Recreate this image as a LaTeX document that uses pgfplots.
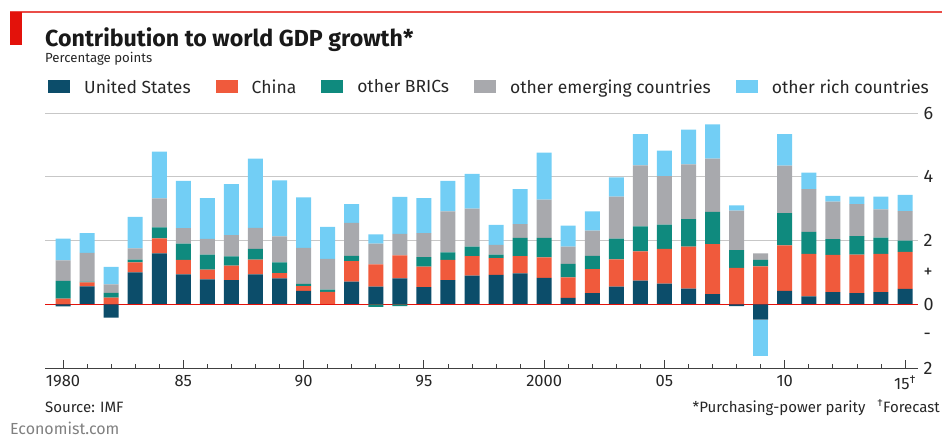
\documentclass[border=0pt]{standalone}
\usepackage{pgfplots}
\pgfplotsset{compat=1.18}
\usepackage{pgfplotstable}
\usepackage{fontspec}
\setmainfont{Fira Sans}
\definecolor{cUS}{HTML}{0C4D6A}
\definecolor{cCN}{HTML}{F05A3C}
\definecolor{cBR}{HTML}{0F8A7E}
\definecolor{cEM}{HTML}{A8A9AD}
\definecolor{cRI}{HTML}{72CEF5}
\definecolor{ecoRed}{HTML}{E3120B}
\pgfplotsset{legsq/.style={legend image code/.code={\fill[##1] (0pt,-6.5pt) rectangle (22pt,6.5pt);}}}
\pgfplotstableread{
year us cn br em ri
1980 0.00 0.18 0.55 0.65 0.68
1981 0.56 0.13 0.02 0.90 0.62
1982 0.00 0.21 0.15 0.26 0.55
1983 1.00 0.31 0.09 0.35 0.99
1984 1.60 0.47 0.34 0.91 1.47
1985 0.94 0.45 0.51 0.49 1.48
1986 0.78 0.31 0.47 0.49 1.28
1987 0.76 0.45 0.29 0.67 1.60
1988 0.94 0.46 0.34 0.66 2.17
1989 0.81 0.17 0.33 0.82 1.76
1990 0.42 0.15 0.07 1.13 1.58
1991 0.00 0.39 0.07 0.96 1.01
1992 0.71 0.64 0.17 1.03 0.59
1993 0.55 0.70 0.00 0.65 0.29
1994 0.81 0.72 0.00 0.68 1.16
1995 0.54 0.64 0.30 0.75 1.10
1996 0.76 0.63 0.24 1.28 0.96
1997 0.90 0.61 0.30 1.19 1.09
1998 0.92 0.53 0.11 0.30 0.63
1999 0.97 0.54 0.57 0.43 1.10
2000 0.83 0.64 0.61 1.20 1.48
2001 0.20 0.64 0.43 0.54 0.66
2002 0.35 0.75 0.42 0.79 0.60
2003 0.55 0.86 0.65 1.32 0.60
2004 0.74 0.92 0.78 1.92 0.98
2005 0.65 1.09 0.76 1.52 0.80
2006 0.49 1.32 0.86 1.72 1.09
2007 0.32 1.57 1.01 1.67 1.07
2008 0.00 1.14 0.56 1.24 0.16
2009 0.00 1.19 0.20 0.21 0.00
2010 0.42 1.43 1.01 1.49 0.99
2011 0.25 1.33 0.69 1.34 0.52
2012 0.38 1.17 0.49 1.18 0.18
2013 0.35 1.21 0.58 1.00 0.24
2014 0.38 1.20 0.51 0.89 0.40
2015 0.48 1.16 0.36 0.92 0.51
}\postab
\pgfplotstableread{
year us br ri
1980 -0.07 0 0
1981 0 0 0
1982 -0.42 0 0
1983 0 0 0
1984 0 0 0
1985 0 0 0
1986 0 0 0
1987 0 0 0
1988 0 0 0
1989 0 0 0
1990 0 0 0
1991 0 0 0
1992 0 0 0
1993 0 -0.08 0
1994 0 -0.06 0
1995 0 0 0
1996 0 0 0
1997 0 0 0
1998 0 0 0
1999 0 0 0
2000 0 0 0
2001 0 0 0
2002 0 0 0
2003 0 0 0
2004 0 0 0
2005 0 0 0
2006 0 0 0
2007 0 0 0
2008 -0.06 0 0
2009 -0.48 0 -1.14
2010 0 0 0
2011 0 0 0
2012 0 0 0
2013 0 0 0
2014 0 0 0
2015 0 0 0
}\negtab
\pgfplotsset{common/.style={
  at={(45pt,71pt)}, anchor=south west, scale only axis,
  width=873pt, height=255pt,
  xmin=1979.25, xmax=2015.54, ymin=-2, ymax=6, enlargelimits=false,
  ybar stacked, bar width=15pt,
}}
\begin{document}
\begin{tikzpicture}[x=1pt,y=1pt]
\useasboundingbox (0,0) rectangle (942,439);
\draw[line width=1.2pt, color=ecoRed!75] (10,427) -- (942,427);
\fill[ecoRed] (10,427) rectangle (22,394);
\node[anchor=base west, inner sep=0pt, font=\fontsize{23.2}{27}\selectfont\bfseries, text=black!90] at (45,392) {Contribution to world GDP growth*};
\node[anchor=base west, inner sep=0pt, font=\fontsize{13.2}{15}\selectfont, text=black!85] at (45,376) {Percentage points};
\begin{axis}[common,
  axis x line*=bottom, axis y line*=right,
  y axis line style={draw=none},
  x axis line style={draw=black!75, line width=0.9pt, -},
  xtick={1980,1985,...,2015},
  xticklabels={1980,85,90,95,2000,05,10,15\textsuperscript{†}},
  minor x tick num=4, tick align=inside,
  major tick length=8pt, minor tick length=4pt,
  x tick style={draw=black!75, line width=0.8pt},
  ytick={2,4,6}, yticklabels={2,4,6},
  extra y ticks={-2,-1,0,1}, extra y tick labels={2,-,0,+},
  extra y tick style={grid=none},
  y tick style={draw=none},
  ymajorgrids, major grid style={black!22, line width=0.9pt},
  /pgf/number format/assume math mode=true,
  xticklabel style={font=\fontsize{16.5}{19}\selectfont, text=black!85, yshift=-4pt},
  yticklabel style={font=\fontsize{18}{20}\selectfont, text=black!85, anchor=west, xshift=2pt},
  legend style={at={(0,1.102)}, anchor=west, draw=none, fill=none,
    font=\fontsize{17.5}{20}\selectfont, text=black!85,
    /tikz/every even column/.append style={column sep=25pt},
    /tikz/every odd column/.append style={column sep=14pt},
    nodes={inner sep=0pt}},
  legend columns=5,
]
\addplot[fill=cUS, draw=none, legsq] table[x=year, y=us] {\postab};
\addplot[fill=cCN, draw=none, legsq] table[x=year, y=cn] {\postab};
\addplot[fill=cBR, draw=none, legsq] table[x=year, y=br] {\postab};
\addplot[fill=cEM, draw=none, legsq] table[x=year, y=em] {\postab};
\addplot[fill=cRI, draw=none, legsq] table[x=year, y=ri] {\postab};
\legend{United States, China, other BRICs, other emerging countries, other rich countries}
\end{axis}
\begin{axis}[common, hide axis]
\addplot[fill=cUS, draw=none] table[x=year, y=us] {\negtab};
\addplot[fill=cBR, draw=none] table[x=year, y=br] {\negtab};
\addplot[fill=cRI, draw=none] table[x=year, y=ri] {\negtab};
\draw[ecoRed, line width=0.9pt] (axis cs:1979.25,0) -- (axis cs:2015.54,0);
\end{axis}
\node[anchor=base west, inner sep=0pt, font=\fontsize{15}{17}\selectfont, text=black!85] at (45,27) {Source: IMF};
\node[anchor=base east, inner sep=0pt, font=\fontsize{15}{17}\selectfont, text=black!85] at (940,27) {*Purchasing-power parity\hspace{12pt}\textsuperscript{†}Forecast};
\node[anchor=base west, inner sep=0pt, font=\fontsize{16}{18}\selectfont, text=black!50] at (10,5) {Economist.com};
\end{tikzpicture}
\end{document}
